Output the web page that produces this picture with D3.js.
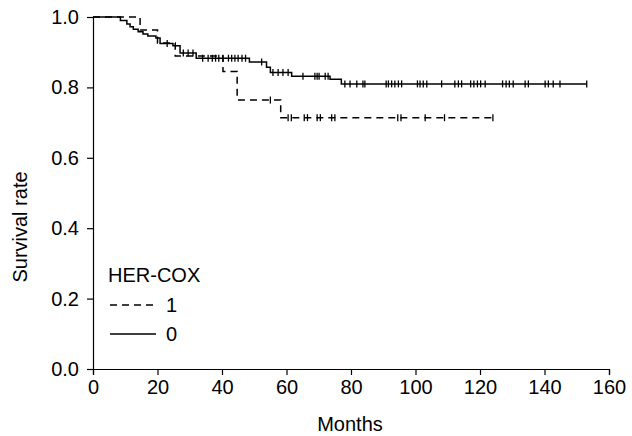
<!DOCTYPE html>
<html>
<head>
<meta charset="utf-8">
<script src="https://cdn.jsdelivr.net/npm/d3@7"></script>
<style>
  body { margin: 0; background: #fff; }
  text { font-family: "Liberation Sans", Arial, sans-serif; fill: #000; }
</style>
</head>
<body>
<div id="chart"></div>
<script>
// HER-COX = 1 (dashed): step times (months) and survival after each step
var times1 = [0, 14.6, 20, 25.5, 40.3, 44.7, 58.2, 124];
var surv1  = [1, 0.963, 0.926, 0.889, 0.845, 0.764, 0.714, 0.714];
var cens1  = [55, 60.5, 61.5, 65.5, 66.5, 69.5, 70.5, 74, 75, 94.5, 95.5, 103, 109, 124];

// HER-COX = 0 (solid)
var times0 = [0, 8.5, 10.5, 11.5, 12.5, 14, 15.5, 17, 19.5, 20.8, 24.8, 27, 32, 48.5, 53.8, 55, 61.6, 73.5, 77, 153];
var surv0  = [1, 0.99, 0.98, 0.972, 0.965, 0.958, 0.952, 0.946, 0.94, 0.925, 0.918, 0.898, 0.883, 0.872, 0.857, 0.842, 0.832, 0.823, 0.81, 0.81];
var cens0  = [23, 28, 29.5, 31, 34, 35.7, 37, 38, 39, 40.3, 42, 43, 44, 45, 46.2, 47.3, 52.3, 55.8, 57.4, 58.9, 60.5,
              65.1, 68.8, 69.5, 70.1, 72, 72.9, 78.1, 79.7, 81.8, 83.7, 84.3, 90.9, 91.6, 92.6, 93.6, 94.7, 95.7,
              100.6, 101.4, 102.4, 103.5, 108.1, 112.2, 113.3, 114.3, 117.1, 118.1, 119.2, 120.2, 121.6,
              127, 128.1, 129.1, 130.3, 134, 135, 140.2, 141.2, 142.7, 144.8, 153.1];

var xTicks = [0, 20, 40, 60, 80, 100, 120, 140, 160];
var yTicks = [0, 0.2, 0.4, 0.6, 0.8, 1.0];

var width = 632, height = 436;
var svg = d3.select("#chart").append("svg")
    .attr("width", width)
    .attr("height", height);

var x = d3.scaleLinear().domain([0, 160]).range([93, 609]);
var y = d3.scaleLinear().domain([0, 1]).range([369, 17]);

var xAxis = svg.append("g")
    .attr("transform", "translate(0,369)")
    .call(d3.axisBottom(x).tickValues(xTicks).tickSize(6).tickPadding(5));
var yAxis = svg.append("g")
    .attr("transform", "translate(93,0)")
    .call(d3.axisLeft(y).tickValues(yTicks).tickFormat(d3.format(".1f")).tickSize(6).tickPadding(8));

svg.selectAll(".domain, .tick line").attr("stroke", "#000").attr("stroke-width", 1.2);
svg.selectAll(".tick text").style("font-size", "20px").attr("fill", "#000");

svg.append("text")
    .attr("x", 350).attr("y", 431)
    .attr("text-anchor", "middle")
    .style("font-size", "20px")
    .text("Months");

svg.append("text")
    .attr("transform", "translate(27,227) rotate(-90)")
    .attr("text-anchor", "middle")
    .style("font-size", "20px")
    .text("Survival rate");

var line = d3.line()
    .x(function(d) { return x(d[0]); })
    .y(function(d) { return y(d[1]); })
    .curve(d3.curveStepAfter);

function survAt(t, times, surv) {
  var s = surv[0];
  for (var i = 0; i < times.length; i++) {
    if (times[i] <= t) s = surv[i];
  }
  return s;
}

function drawCurve(times, surv, cens, dash) {
  var pts = times.map(function(t, i) { return [t, surv[i]]; });
  svg.append("path")
    .datum(pts)
    .attr("fill", "none")
    .attr("stroke", "#000")
    .attr("stroke-width", 1.5)
    .attr("stroke-dasharray", dash)
    .attr("d", line);
  svg.append("g").selectAll("line")
    .data(cens)
    .enter()
    .append("line")
      .attr("x1", function(d) { return x(d); })
      .attr("x2", function(d) { return x(d); })
      .attr("y1", function(d) { return y(survAt(d, times, surv)) - 3.5; })
      .attr("y2", function(d) { return y(survAt(d, times, surv)) + 3.5; })
      .attr("stroke", "#000")
      .attr("stroke-width", 1.3);
}

drawCurve(times0, surv0, cens0, null);
drawCurve(times1, surv1, cens1, "7,5");

// legend
var legend = svg.append("g");
legend.append("text")
    .attr("x", 108).attr("y", 282)
    .style("font-size", "20px")
    .text("HER-COX");
var groups = [{label: "1", dash: "7,5"}, {label: "0", dash: null}];
groups.forEach(function(g, i) {
  var ly = 305 + i * 29;
  legend.append("line")
    .attr("x1", 110).attr("x2", 156)
    .attr("y1", ly).attr("y2", ly)
    .attr("stroke", "#000")
    .attr("stroke-width", 1.5)
    .attr("stroke-dasharray", g.dash);
  legend.append("text")
    .attr("x", 166).attr("y", ly + 7)
    .style("font-size", "20px")
    .text(g.label);
});
</script>
</body>
</html>
